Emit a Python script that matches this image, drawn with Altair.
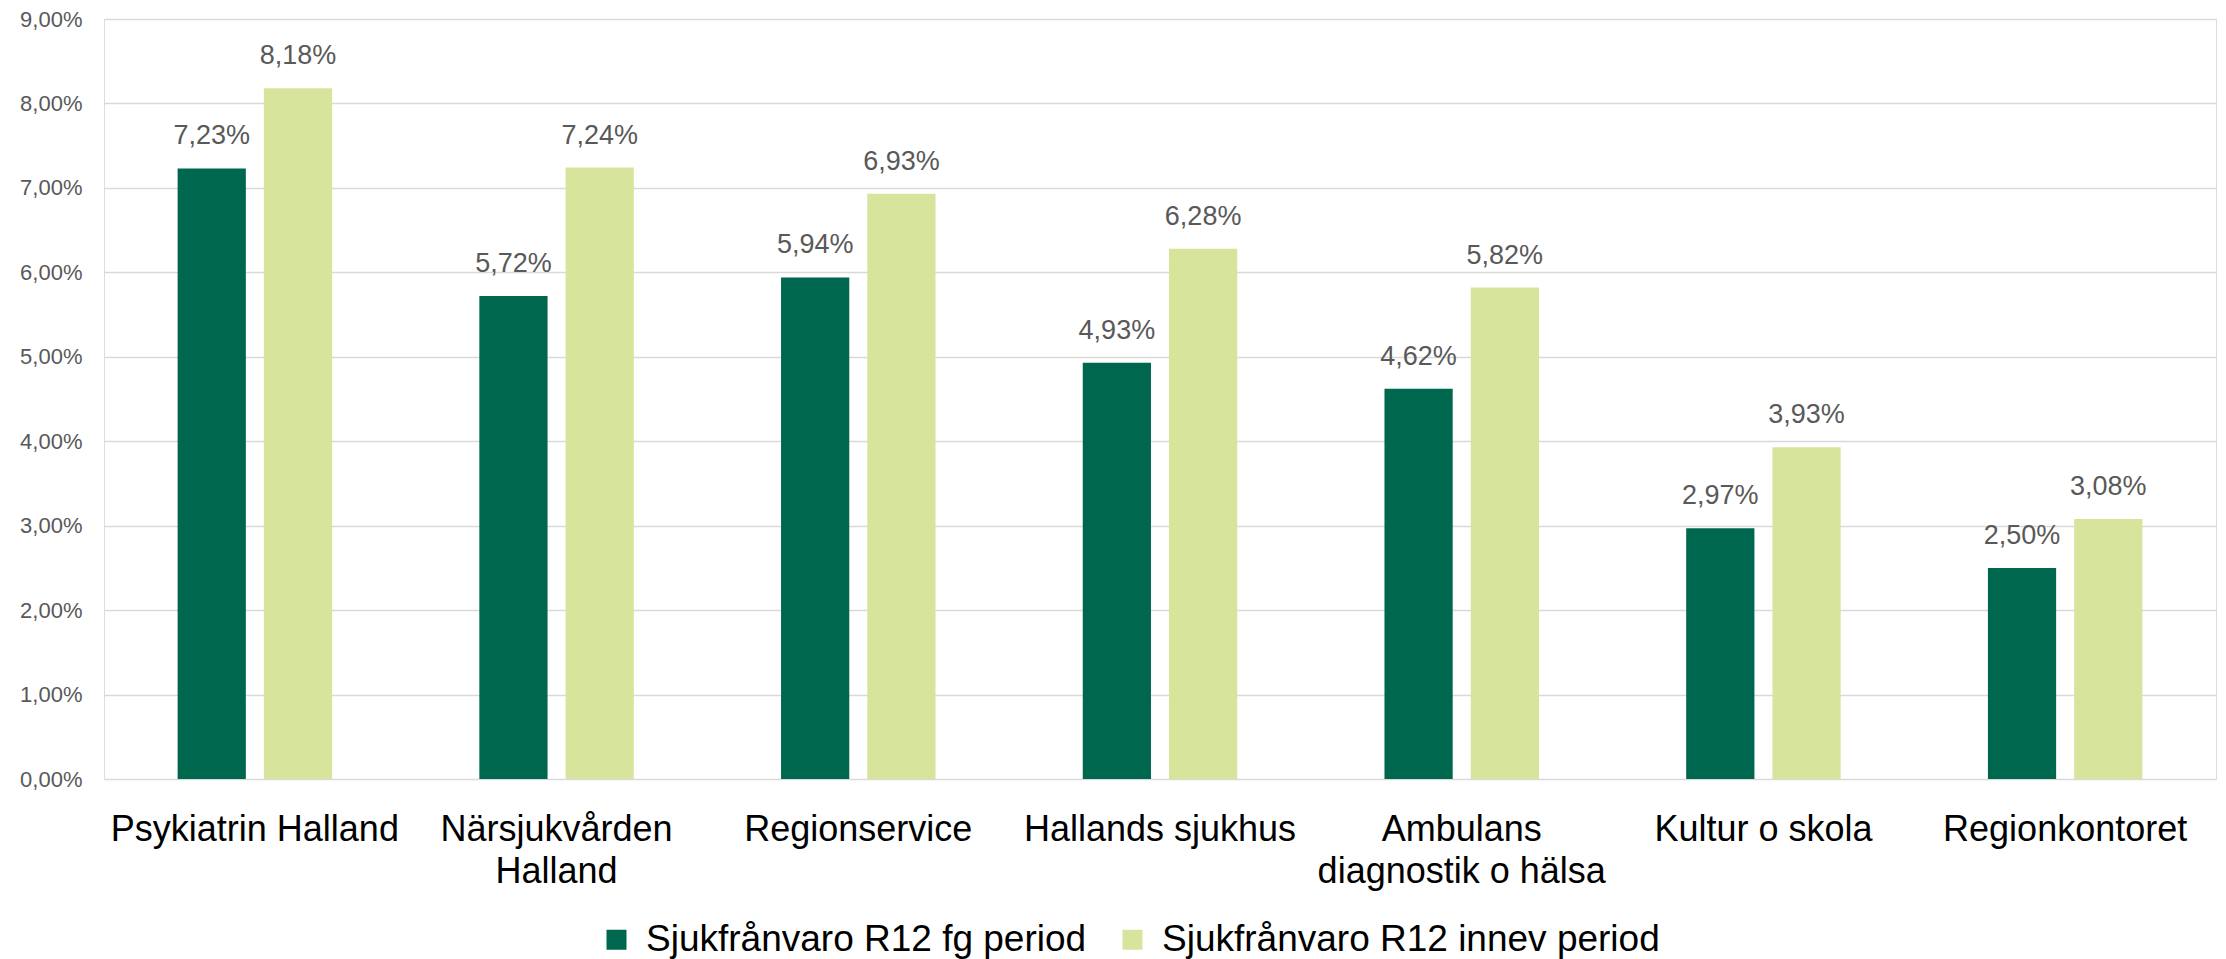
import altair as alt
import pandas as pd

categories = ["Psykiatrin Halland", "Närsjukvården|Halland", "Regionservice",
              "Hallands sjukhus", "Ambulans|diagnostik o hälsa", "Kultur o skola",
              "Regionkontoret"]
series_names = ["Sjukfrånvaro R12 fg period", "Sjukfrånvaro R12 innev period"]
fg_values = [7.23, 5.72, 5.94, 4.93, 4.62, 2.97, 2.50]
innev_values = [8.18, 7.24, 6.93, 6.28, 5.82, 3.93, 3.08]
y_ticks = [0, 1, 2, 3, 4, 5, 6, 7, 8, 9]
colors = ["#00674F", "#D7E49C"]

rows = []
for c, a, b in zip(categories, fg_values, innev_values):
    rows.append({"cat": c, "series": series_names[0], "value": a})
    rows.append({"cat": c, "series": series_names[1], "value": b})
df = pd.DataFrame(rows)

FONT = "Liberation Sans"

x_enc = alt.X("cat:N", sort=categories, title=None,
              scale=alt.Scale(paddingInner=0.488, paddingOuter=0.244),
              axis=alt.Axis(labelExpr="split(datum.label, '|')", labelAngle=0,
                            labelFontSize=36, labelColor="#000000", labelFont=FONT,
                            labelLineHeight=42, labelPadding=33, ticks=False,
                            tickSize=0, domain=False, grid=False, labelLimit=500))
xoff_enc = alt.XOffset("series:N", sort=series_names,
                       scale=alt.Scale(paddingInner=0.209, paddingOuter=0))
y_enc = alt.Y("value:Q", title=None,
              scale=alt.Scale(domain=[0, 9], nice=False, zero=True),
              axis=alt.Axis(values=y_ticks,
                            labelExpr="replace(format(datum.value, '.2f'), '.', ',') + '%'",
                            labelFontSize=22, labelColor="#595959", labelFont=FONT,
                            labelPadding=22, ticks=False, tickSize=0, domain=False,
                            grid=True, gridColor="#D9D9D9", gridWidth=1.5))

base = alt.Chart(df)

bars = base.mark_bar().encode(
    x=x_enc, xOffset=xoff_enc, y=y_enc,
    color=alt.Color("series:N", sort=series_names,
                    scale=alt.Scale(domain=series_names, range=colors),
                    legend=alt.Legend(title=None, orient="none", direction="horizontal",
                                      legendX=494, legendY=902, symbolType="square",
                                      symbolSize=400, symbolStrokeWidth=0,
                                      labelFontSize=37, labelFont=FONT,
                                      labelColor="#000000", labelOffset=11,
                                      columnPadding=27, padding=0, labelLimit=800)),
)

labels = base.mark_text(baseline="alphabetic", dy=-24, fontSize=27, font=FONT,
                        color="#595959").transform_calculate(
    lbl="replace(format(datum.value, '.2f'), '.', ',') + '%'"
).encode(
    x=alt.X("cat:N", sort=categories),
    xOffset=alt.XOffset("series:N", sort=series_names),
    y=alt.Y("value:Q"),
    text="lbl:N",
)

chart = alt.layer(bars, labels).properties(
    width=2112, height=760,
    autosize=alt.AutoSizeParams(type="none"),
    padding={"left": 96, "top": 11, "right": 2, "bottom": 180},
).configure_view(stroke=None).configure(background="white")

chart.save("out.html", embed_options={"renderer": "svg", "actions": False})
